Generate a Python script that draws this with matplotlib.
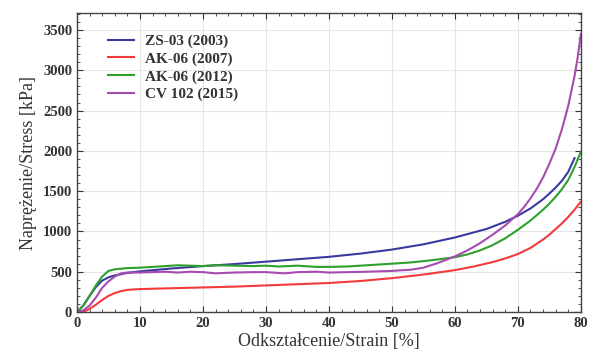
import matplotlib
matplotlib.use("Agg")
import matplotlib.pyplot as plt
from matplotlib.ticker import MultipleLocator

plt.rcParams['font.family'] = ['Liberation Serif', 'DejaVu Serif']

zs_x = [0, 1, 2, 3, 4, 5, 6, 8, 10, 15, 20, 25, 30, 35, 40, 45, 50, 55, 60, 65, 68, 70, 72, 74, 75, 76, 77, 78, 79]
zs_y = [0, 80, 200, 310, 390, 430, 455, 485, 505, 540, 570, 595, 625, 655, 685, 725, 775, 840, 925, 1030, 1120, 1195, 1285, 1400, 1470, 1545, 1630, 1740, 1910]

ak07_x = [0, 1, 2, 3, 4, 5, 6, 7, 8, 10, 15, 20, 25, 30, 35, 40, 45, 50, 55, 60, 63, 66, 68, 70, 72, 74, 75, 76, 77, 78, 79, 80]
ak07_y = [0, 0, 40, 90, 150, 200, 235, 260, 275, 285, 295, 305, 315, 330, 345, 360, 385, 420, 465, 520, 565, 620, 665, 720, 795, 900, 960, 1030, 1100, 1180, 1270, 1370]

ak12_x = [0, 1, 2, 3, 4, 5, 6, 8, 10, 12, 14, 16, 18, 20, 22, 25, 28, 30, 32, 35, 38, 40, 43, 46, 50, 53, 56, 60, 62, 64, 66, 68, 70, 72, 74, 75, 76, 77, 78, 79, 80]
ak12_y = [0, 80, 200, 330, 440, 510, 530, 545, 550, 560, 570, 580, 575, 570, 580, 575, 570, 575, 565, 575, 560, 560, 565, 580, 600, 615, 640, 680, 715, 765, 830, 915, 1020, 1135, 1270, 1345, 1430, 1525, 1640, 1800, 1990]

cv_x = [0, 1, 2, 3, 4, 5, 6, 7, 8, 10, 12, 14, 16, 18, 20, 22, 25, 28, 30, 33, 35, 38, 40, 43, 46, 50, 53, 55, 57, 60, 62, 64, 66, 68, 70, 71, 72, 73, 74, 75, 76, 77, 78, 79, 79.5, 80]
cv_y = [0, 20, 80, 180, 300, 380, 440, 480, 490, 490, 495, 500, 490, 500, 495, 480, 490, 495, 495, 480, 495, 500, 490, 495, 500, 510, 525, 550, 600, 690, 765, 855, 960, 1075, 1215, 1305, 1410, 1530, 1670, 1840, 2030, 2270, 2560, 2930, 3160, 3450]

labels = ['ZS-03 (2003)', 'AK-06 (2007)', 'AK-06 (2012)', 'CV 102 (2015)']
colors = ['#3a3a9e', '#f43a3a', '#2ea02e', '#a64cb0']

fig = plt.figure(figsize=(5.9, 3.61), dpi=100)
ax = fig.add_axes([0.1305, 0.1357, 0.854, 0.828])

for xs, ys, lab, c in zip([zs_x, ak07_x, ak12_x, cv_x], [zs_y, ak07_y, ak12_y, cv_y], labels, colors):
    ax.plot(xs, ys, color=c, lw=1.5, label=lab)

ax.set_xlim(0, 80)
ax.set_ylim(0, 3710)
ax.xaxis.set_major_locator(MultipleLocator(10))
ax.xaxis.set_minor_locator(MultipleLocator(2))
ax.yaxis.set_major_locator(MultipleLocator(500))
ax.yaxis.set_minor_locator(MultipleLocator(100))
ax.tick_params(which='both', direction='in', top=True, right=True, labelsize=10.5, colors='#333333', labelcolor='#333333')
ax.tick_params(which='major', length=4)
ax.tick_params(which='minor', length=2)
for lbl in ax.get_xticklabels() + ax.get_yticklabels():
    lbl.set_fontweight('bold')
ax.grid(True, which='major', color='#e6e6e6', lw=0.8)
for s in ax.spines.values():
    s.set_color('#444444')
    s.set_linewidth(1.0)

ax.set_xlabel('Odkształcenie/Strain [%]', fontsize=13, color='#333333', labelpad=2)
ax.set_ylabel('Naprężenie/Stress [kPa]', fontsize=13, color='#333333', labelpad=4)

leg = ax.legend(loc='upper left', bbox_to_anchor=(0.035, 0.975), frameon=False,
                prop={'size': 11, 'weight': 'bold'}, handlelength=1.7, labelspacing=0.25,
                handletextpad=0.7)
for t in leg.get_texts():
    t.set_color('#333333')

fig.savefig('out.png', dpi=100)
